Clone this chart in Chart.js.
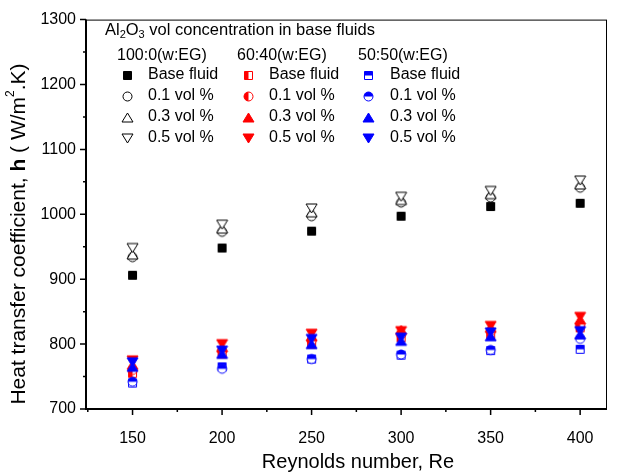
<!DOCTYPE html>
<html>
<head>
<meta charset="utf-8">
<script src="https://cdn.jsdelivr.net/npm/chart.js@4.4.0/dist/chart.umd.min.js"></script>
<style>
  html, body { margin: 0; padding: 0; background: #fff; }
  #wrap { width: 619px; height: 473px; }
</style>
</head>
<body>
<div id="wrap"><canvas id="chart" width="619" height="473"></canvas></div>
<script>
// Reynolds number
const reynolds = [150, 200, 250, 300, 350, 400];

// 100:0 (w:EG)
const w100_base = [906, 948, 974, 997, 1012, 1017];
const w100_01 = [934, 973, 997, 1018, 1026, 1041];
const w100_03 = [938, 978, 1003, 1022, 1031, 1046];
const w100_05 = [948, 984, 1009, 1027, 1036, 1052];

// 60:40 (w:EG)
const w60_base = [755, 785, 800, 810, 815, 825];
const w60_01 = [760, 790, 805, 815, 820, 830];
const w60_03 = [768, 795, 812, 822, 825, 838];
const w60_05 = [775, 800, 816, 820, 828, 842];

// 50:50 (w:EG)
const w50_base = [740, 765, 777, 783, 790, 792];
const w50_01 = [742, 762, 777, 784, 791, 808];
const w50_03 = [765, 785, 800, 805, 812, 815];
const w50_05 = [772, 790, 808, 810, 818, 820];

const xTicks = [150, 200, 250, 300, 350, 400];
const yTicks = [700, 800, 900, 1000, 1100, 1200, 1300];

const BLACK = "#000000";
const RED = "#ff0000";
const BLUE = "#0000ff";

// マーカー画像の作成
function makeMarker(shape, color, fill) {
  const s = 13;
  const c = document.createElement("canvas");
  c.width = s;
  c.height = s;
  const ctx = c.getContext("2d");
  const m = s / 2;

  function path() {
    ctx.beginPath();
    if (shape === "square") {
      ctx.rect(2.5, 2.5, 8, 8);
    } else if (shape === "circle") {
      ctx.arc(m, m, 4.5, 0, Math.PI * 2);
    } else if (shape === "up") {
      ctx.moveTo(1, 11);
      ctx.lineTo(12, 11);
      ctx.lineTo(m, 2);
      ctx.closePath();
    } else {
      ctx.moveTo(1, 2);
      ctx.lineTo(12, 2);
      ctx.lineTo(m, 11);
      ctx.closePath();
    }
  }

  path();
  ctx.fillStyle = "#fff";
  ctx.fill();
  if (fill !== "none") {
    ctx.save();
    if (fill === "left") {
      ctx.beginPath();
      ctx.rect(0, 0, m, s);
      ctx.clip();
    } else if (fill === "top") {
      ctx.beginPath();
      ctx.rect(0, 0, s, m);
      ctx.clip();
    }
    path();
    ctx.fillStyle = color;
    ctx.fill();
    ctx.restore();
  }
  path();
  ctx.strokeStyle = color;
  ctx.lineWidth = 1;
  ctx.stroke();
  return c;
}

const markers = {
  w100_base: makeMarker("square", BLACK, "full"),
  w100_01: makeMarker("circle", BLACK, "none"),
  w100_03: makeMarker("up", BLACK, "none"),
  w100_05: makeMarker("down", BLACK, "none"),
  w60_base: makeMarker("square", RED, "left"),
  w60_01: makeMarker("circle", RED, "left"),
  w60_03: makeMarker("up", RED, "full"),
  w60_05: makeMarker("down", RED, "full"),
  w50_base: makeMarker("square", BLUE, "top"),
  w50_01: makeMarker("circle", BLUE, "top"),
  w50_03: makeMarker("up", BLUE, "full"),
  w50_05: makeMarker("down", BLUE, "full"),
};

function series(label, values, key, order) {
  return {
    label: label,
    data: reynolds.map((x, i) => ({ x: x, y: values[i] })),
    pointStyle: markers[key],
    pointRadius: 6,
    pointHoverRadius: 6,
    showLine: false,
    order: order,
  };
}

const FONT = "'Liberation Sans', Arial, sans-serif";

// 軸タイトル・目盛り・凡例の描画
const decorPlugin = {
  id: "decor",
  afterDraw(chart) {
    const ctx = chart.ctx;
    const a = chart.chartArea;
    const xs = chart.scales.x;
    const ys = chart.scales.y;
    ctx.save();

    // 枠
    ctx.strokeStyle = "#000";
    ctx.lineWidth = 1;
    ctx.strokeRect(a.left + 0.5, a.top + 0.5, a.right - a.left - 1, a.bottom - a.top - 1);
    ctx.lineWidth = 2;
    ctx.beginPath();
    ctx.moveTo(a.left, a.top);
    ctx.lineTo(a.left, a.bottom);
    ctx.lineTo(a.right, a.bottom);
    ctx.stroke();

    // 目盛り線
    ctx.lineWidth = 1.5;
    ctx.beginPath();
    for (let v = 125; v <= 400; v += 25) {
      const px = xs.getPixelForValue(v);
      const len = v % 50 === 0 ? 6 : 3;
      ctx.moveTo(px, a.bottom);
      ctx.lineTo(px, a.bottom + len);
    }
    for (let v = 700; v <= 1300; v += 50) {
      const py = ys.getPixelForValue(v);
      const len = v % 100 === 0 ? 6 : 3;
      ctx.moveTo(a.left, py);
      ctx.lineTo(a.left - len, py);
    }
    ctx.stroke();

    // X軸タイトル
    ctx.fillStyle = "#000";
    ctx.font = "20px " + FONT;
    ctx.textAlign = "center";
    ctx.textBaseline = "middle";
    ctx.fillText("Reynolds number, Re", 358, 462);

    // Y軸タイトル（太字 h と上付き 2）
    ctx.save();
    ctx.translate(19, 234);
    ctx.rotate(-Math.PI / 2);
    const parts = [
      { t: "Heat transfer coefficient, ", f: "21px " + FONT, dy: 0 },
      { t: "h", f: "bold 21px " + FONT, dy: 0 },
      { t: " ( W/m", f: "21px " + FONT, dy: 0 },
      { t: "2", f: "12px " + FONT, dy: -8 },
      { t: ".K)", f: "21px " + FONT, dy: 0 },
    ];
    let total = 0;
    parts.forEach((p) => {
      ctx.font = p.f;
      p.w = ctx.measureText(p.t).width;
      total += p.w;
    });
    let cx = -total / 2;
    ctx.textAlign = "left";
    parts.forEach((p) => {
      ctx.font = p.f;
      ctx.fillText(p.t, cx, p.dy);
      cx += p.w;
    });
    ctx.restore();

    // 凡例タイトル Al2O3
    ctx.textAlign = "left";
    ctx.textBaseline = "middle";
    let tx = 105;
    const ty = 30;
    const tparts = [
      { t: "Al", f: "16.5px " + FONT, dy: 0 },
      { t: "2", f: "11px " + FONT, dy: 5 },
      { t: "O", f: "16.5px " + FONT, dy: 0 },
      { t: "3", f: "11px " + FONT, dy: 5 },
      { t: " vol concentration in base fluids", f: "16.5px " + FONT, dy: 0 },
    ];
    tparts.forEach((p) => {
      ctx.font = p.f;
      ctx.fillText(p.t, tx, ty + p.dy);
      tx += ctx.measureText(p.t).width;
    });

    // 凡例の列
    ctx.font = "16px " + FONT;
    const heads = ["100:0(w:EG)", "60:40(w:EG)", "50:50(w:EG)"];
    const headX = [117, 237, 358];
    heads.forEach((h, i) => ctx.fillText(h, headX[i], 56));

    const rows = ["Base fluid", "0.1 vol %", "0.3 vol %", "0.5 vol %"];
    const rowY = [75, 96, 117, 138];
    const groups = [
      ["w100_base", "w100_01", "w100_03", "w100_05"],
      ["w60_base", "w60_01", "w60_03", "w60_05"],
      ["w50_base", "w50_01", "w50_03", "w50_05"],
    ];
    const markX = [127, 248, 368];
    const labelX = [148, 269, 390];
    groups.forEach((g, gi) => {
      g.forEach((key, ri) => {
        const img = markers[key];
        ctx.drawImage(img, Math.round(markX[gi] - img.width / 2), Math.round(rowY[ri] - img.height / 2));
        ctx.fillText(rows[ri], labelX[gi], rowY[ri]);
      });
    });

    ctx.restore();
  },
};

const datasets = [
  series("100:0 Base fluid", w100_base, "w100_base", 11),
  series("100:0 0.1 vol %", w100_01, "w100_01", 10),
  series("100:0 0.3 vol %", w100_03, "w100_03", 9),
  series("100:0 0.5 vol %", w100_05, "w100_05", 8),
  series("60:40 Base fluid", w60_base, "w60_base", 7),
  series("60:40 0.1 vol %", w60_01, "w60_01", 6),
  series("60:40 0.3 vol %", w60_03, "w60_03", 5),
  series("60:40 0.5 vol %", w60_05, "w60_05", 4),
  series("50:50 Base fluid", w50_base, "w50_base", 3),
  series("50:50 0.1 vol %", w50_01, "w50_01", 2),
  series("50:50 0.3 vol %", w50_03, "w50_03", 1),
  series("50:50 0.5 vol %", w50_05, "w50_05", 0),
];

new Chart(document.getElementById("chart"), {
  type: "scatter",
  data: { datasets: datasets },
  options: {
    responsive: false,
    animation: false,
    events: [],
    layout: { padding: { top: 13, right: 12, left: 0, bottom: 0 } },
    plugins: {
      legend: { display: false },
      tooltip: { enabled: false },
    },
    scales: {
      x: {
        type: "linear",
        min: 124,
        max: 415,
        afterBuildTicks: (scale) => {
          scale.ticks = xTicks.map((v) => ({ value: v }));
        },
        afterFit: (scale) => {
          scale.height = 64;
        },
        grid: { display: false, drawTicks: false },
        border: { display: false },
        ticks: {
          color: "#000",
          font: { family: FONT, size: 16 },
          padding: 20,
          maxRotation: 0,
          callback: (v) => String(v),
        },
      },
      y: {
        type: "linear",
        min: 700,
        max: 1300,
        afterBuildTicks: (scale) => {
          scale.ticks = yTicks.map((v) => ({ value: v }));
        },
        afterFit: (scale) => {
          scale.width = 86;
        },
        grid: { display: false, drawTicks: false },
        border: { display: false },
        ticks: {
          color: "#000",
          font: { family: FONT, size: 16 },
          padding: 10,
          callback: (v) => String(v),
        },
      },
    },
  },
  plugins: [decorPlugin],
});
</script>
</body>
</html>
